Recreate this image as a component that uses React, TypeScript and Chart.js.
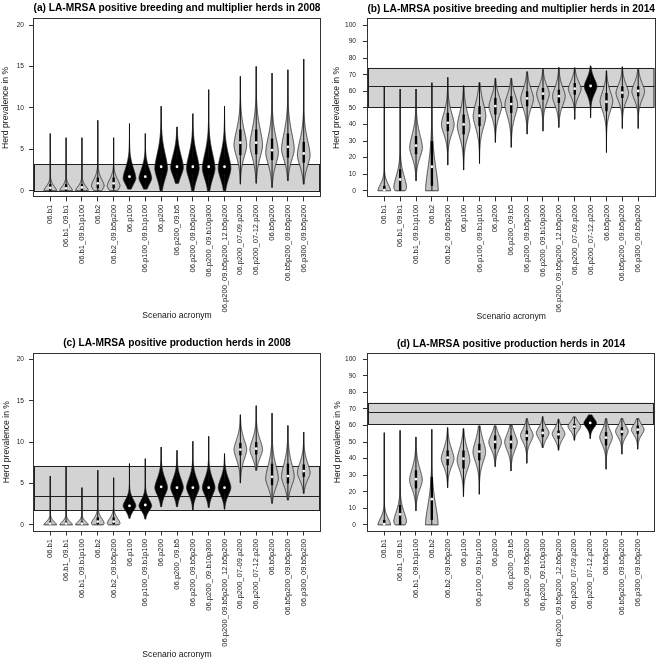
import React, { useEffect, useRef } from "react";
import { Chart, registerables } from "chart.js";
Chart.register(...registerables);

const categories = [
  "06.b1", "06.b1_09.b1", "06.b1_09.b1p100", "06.b2", "06.b2_09.b5p200",
  "06.p100", "06.p100_09.b1p100", "06.p200", "06.p200_09.b5", "06.p200_09.b5p200",
  "06.p200_09.b10p300", "06.p200_09.b5p200_12.b5p200", "06.p200_07-09.p200",
  "06.p200_07-12.p200", "06.b5p200", "06.b5p200_09.b5p200", "06.p300_09.b5p200",
];

const titles = [
  "(a) LA-MRSA positive breeding and multiplier herds in 2008",
  "(b) LA-MRSA positive breeding and multiplier herds in 2014",
  "(c) LA-MRSA positive production herds in 2008",
  "(d) LA-MRSA positive production herds in 2014",
];

const yTicks2008 = [0, 5, 10, 15, 20];
const yTicks2014 = [0, 10, 20, 30, 40, 50, 60, 70, 80, 90, 100];

// observed ranges (band low, band high, band centre line)
const bandA = [0, 3.2, null];
const bandB = [50.3, 74.2, 63.2];
const bandC = [1.8, 7.13, 3.5];
const bandD = [60.8, 73.8, 68.2];

// fill: k = black, g = grey
const fillA = ["g","g","g","g","g","k","k","k","k","k","k","k","g","g","g","g","g"];
const fillB = ["g","g","g","g","g","g","g","g","g","g","g","g","g","k","g","g","g"];
const fillC = ["g","g","g","g","g","k","k","k","k","k","k","k","g","g","g","g","g"];
const fillD = ["g","g","g","g","g","g","g","g","g","g","g","g","g","k","g","g","g"];

// panel (a)
const minA = [0, 0, 0, 0, 0, 0.2, 0.2, 0, 0.9, 0, 0, 0, 0.8, 0.9, 0.4, 1.2, 0.8];
const maxA = [6.9, 6.4, 6.4, 8.5, 6.4, 8.1, 6.9, 10.2, 7.7, 9.3, 12.2, 10.2, 13.8, 15.0, 14.2, 14.6, 15.9];
const medA = [0.35, 0.3, 0.4, 0.9, 0.9, 1.7, 1.7, 2.9, 2.9, 2.9, 2.9, 2.9, 5.8, 5.8, 4.9, 5.3, 4.5];
const modeA = [0, 0, 0, 0.6, 0.6, 1.5, 1.5, 2.7, 2.8, 2.7, 2.7, 2.7, 5.5, 5.5, 4.6, 5.0, 4.3];
const sdLoA = [0.3, 0.3, 0.3, 0.6, 0.6, 0.75, 0.75, 1.3, 1.05, 1.3, 1.3, 1.3, 1.4, 1.5, 1.4, 1.3, 1.3];
const sdHiA = [0.55, 0.55, 0.55, 0.8, 0.8, 1.25, 1.15, 1.8, 1.55, 1.7, 1.8, 1.7, 1.8, 2.0, 1.9, 2.0, 1.8];
const q1A = [0, 0, 0, 0.3, 0.3, 1.1, 1.1, 2.0, 2.1, 2.0, 2.0, 2.0, 4.3, 4.4, 3.7, 4.0, 3.4];
const q3A = [0.8, 0.8, 0.8, 1.6, 1.6, 2.4, 2.4, 3.9, 3.8, 3.9, 3.9, 3.9, 7.4, 7.4, 6.3, 6.9, 5.9];

// panel (b)
const minB = [0, 0, 6.0, 0, 15.5, 12.5, 16.5, 29.2, 26.2, 34.2, 36, 38.2, 43.1, 44.1, 23.1, 37.6, 37.6];
const maxB = [63.2, 61.4, 61.4, 65.2, 68.4, 63.4, 65.2, 67.8, 67.8, 71.8, 73.2, 74.4, 74.2, 75.3, 72.4, 74.8, 73.2];
const medB = [0.4, 6.8, 27.2, 14.5, 41, 40, 45.3, 51.1, 52.3, 55.7, 58.6, 57.1, 61.6, 63.2, 53.7, 59.2, 60.2];
const modeB = [0, 2, 26, 0, 40, 39, 45, 51, 52, 55.5, 58.5, 57, 61.5, 63, 54, 59, 60];
const sdLoB = [3, 3, 6, 3, 6, 7, 7, 6, 7, 6, 5.5, 5.5, 4.5, 4.5, 6, 5, 5];
const sdHiB = [4, 7, 8, 14, 7, 8, 8, 6, 6, 6, 5, 5.5, 4.5, 4.5, 6, 5, 5];
const q1B = [0, 0, 22, 3, 36, 34, 39, 46, 47, 51, 55, 53, 58, 60, 48, 56, 57];
const q3B = [3, 13, 33, 30, 47, 46, 51, 56, 57, 60, 62, 61, 65, 66, 59, 63, 63];

// panel (c)
const minC = [0, 0, 0, 0, 0, 0.8, 0.7, 2.2, 2.2, 1.8, 2.1, 1.9, 5.05, 6.6, 2.6, 3.0, 3.8];
const maxC = [5.9, 7.1, 4.5, 6.6, 5.7, 7.4, 8.0, 9.4, 9.0, 10.1, 10.7, 8.6, 13.3, 14.4, 13.5, 12.0, 11.2];
const medC = [0.15, 0.15, 0.15, 0.4, 0.4, 2.3, 2.4, 4.6, 4.5, 4.5, 4.5, 4.5, 9.1, 9.2, 5.8, 5.9, 6.5];
const modeC = [0, 0, 0, 0.2, 0.2, 2.3, 2.3, 4.5, 4.5, 4.5, 4.5, 4.5, 9.1, 9.1, 5.6, 5.8, 6.3];
const sdLoC = [0.25, 0.25, 0.25, 0.4, 0.4, 0.6, 0.6, 0.9, 0.9, 0.9, 0.9, 0.9, 1.2, 1.0, 1.1, 1.1, 0.9];
const sdHiC = [0.4, 0.4, 0.4, 0.6, 0.6, 0.75, 0.75, 1.1, 1.1, 1.1, 1.1, 1.1, 1.2, 1.2, 1.6, 1.6, 1.2];
const q1C = [0, 0, 0, 0.1, 0.1, 1.9, 1.9, 3.9, 3.8, 3.8, 3.8, 3.8, 8.4, 8.5, 4.8, 5.0, 5.8];
const q3C = [0.4, 0.4, 0.4, 0.9, 0.9, 2.8, 2.9, 5.3, 5.2, 5.2, 5.2, 5.2, 9.9, 10.0, 7.4, 7.4, 7.3];

// panel (d)
const minD = [0, 0, 8.5, 0, 22.5, 17.1, 18.5, 35.2, 32.6, 37.2, 46.7, 45.1, 51.1, 52.1, 33.6, 42.7, 45.7];
const maxD = [55.7, 57.1, 53.1, 57.7, 58.8, 58.1, 59.8, 59.8, 60.4, 64.2, 65.4, 63.8, 65.2, 66.4, 64.2, 64.2, 64.2];
const medD = [0.5, 6.4, 27.6, 15.5, 40.6, 40, 44.3, 50.1, 50.1, 53.9, 55.5, 54.7, 59.4, 61.6, 52.7, 56.3, 57.5];
const modeD = [0, 2, 27, 0, 40, 39, 44, 50, 50, 54, 55.5, 55, 59.5, 61.5, 53, 56.5, 57.5];
const sdLoD = [3, 3, 5.5, 3, 5, 6, 6, 4.5, 5, 4, 3.5, 3.5, 2.8, 2.8, 4.5, 3.5, 3.2];
const sdHiD = [4, 6, 7, 12, 6, 7, 7, 4.5, 5, 4, 3.5, 3.5, 2.8, 2.8, 4.5, 3.5, 3.2];
const q1D = [0, 0, 22, 3, 36, 34, 39, 46, 46, 51, 53, 52, 58, 60, 48, 54, 55];
const q3D = [3, 12, 33, 29, 45, 45, 49, 54, 54, 57, 58, 57, 61, 63, 56, 59, 60];

const FONT = "'Liberation Sans', Arial, Helvetica, sans-serif";
const GREY = "#c4c4c4";
const BAND = "#d3d3d3";
const SHAPE_P = 1.7;

type Violins = {
  min: number[]; max: number[]; med: number[]; mode: number[];
  sdLo: number[]; sdHi: number[]; q1: number[]; q3: number[]; fill: string[];
};

type PanelCfg = {
  title: string; v: Violins; band: (number | null)[];
  yMin: number; yMax: number; yTicks: number[];
  left: number; top: number; w: number; h: number;
  areaLeft: number; areaRight: number; areaTop: number; areaBottom: number;
  titleCenter: number; yTitleCenter: number; xTitleCenter: number | null; yTickPad: number;
};

function violinPlugin(cfg: PanelCfg) {
  return {
    id: "violins",
    beforeDatasetsDraw(chart: any) {
      const { ctx, chartArea: ca } = chart;
      const xs = chart.scales.x, ys = chart.scales.y;
      ctx.save();
      ctx.beginPath();
      ctx.rect(ca.left, ca.top, ca.right - ca.left, ca.bottom - ca.top);
      ctx.clip();
      // observed band
      const b0 = ys.getPixelForValue(cfg.band[0] as number);
      const b1 = ys.getPixelForValue(cfg.band[1] as number);
      ctx.fillStyle = BAND;
      ctx.fillRect(ca.left + 1, b1, ca.right - ca.left - 2, b0 - b1);
      ctx.strokeStyle = "#222";
      ctx.lineWidth = 1;
      ctx.strokeRect(ca.left + 1.5, Math.round(b1) + 0.5, ca.right - ca.left - 3, Math.round(b0) - Math.round(b1));
      if (cfg.band[2] != null) {
        const bm = Math.round(ys.getPixelForValue(cfg.band[2] as number)) + 0.5;
        ctx.beginPath();
        ctx.moveTo(ca.left + 1, bm);
        ctx.lineTo(ca.right - 1, bm);
        ctx.stroke();
      }
      const unit = xs.getPixelForValue(1) - xs.getPixelForValue(0);
      const W = 0.4 * unit;
      const bw = 0.15 * unit;
      const v = cfg.v;
      for (let i = 0; i < categories.length; i++) {
        const cx = xs.getPixelForValue(i + 1);
        const lo = v.min[i], hi = v.max[i];
        const N = 160;
        const pts: [number, number][] = [];
        for (let k = 0; k <= N; k++) {
          const val = lo + ((hi - lo) * k) / N;
          const d = val - v.mode[i];
          const s = d < 0 ? v.sdLo[i] : v.sdHi[i];
          const f = Math.exp(-0.5 * Math.pow(Math.abs(d) / s, SHAPE_P));
          pts.push([ys.getPixelForValue(val), W * f]);
        }
        ctx.beginPath();
        pts.forEach(([py, hw], k) => (k === 0 ? ctx.moveTo(cx - hw, py) : ctx.lineTo(cx - hw, py)));
        for (let k = pts.length - 1; k >= 0; k--) ctx.lineTo(cx + pts[k][1], pts[k][0]);
        ctx.closePath();
        ctx.fillStyle = v.fill[i] === "k" ? "#000" : GREY;
        ctx.fill();
        ctx.strokeStyle = "#222";
        ctx.lineWidth = 0.8;
        ctx.stroke();
        // whisker
        ctx.beginPath();
        ctx.moveTo(cx, ys.getPixelForValue(lo));
        ctx.lineTo(cx, ys.getPixelForValue(hi));
        ctx.lineWidth = 1;
        ctx.strokeStyle = "#111";
        ctx.stroke();
        // box
        const yq3 = ys.getPixelForValue(v.q3[i]);
        const yq1 = ys.getPixelForValue(v.q1[i]);
        ctx.fillStyle = "#000";
        ctx.fillRect(cx - bw / 2, yq3, bw, yq1 - yq3);
      }
      ctx.restore();
    },
    afterDatasetsDraw(chart: any) {
      const { ctx, chartArea: ca } = chart;
      ctx.save();
      ctx.strokeStyle = "#333";
      ctx.lineWidth = 1;
      ctx.strokeRect(Math.round(ca.left) + 0.5, Math.round(ca.top) + 0.5,
        Math.round(ca.right - ca.left) - 1, Math.round(ca.bottom - ca.top) - 1);
      ctx.restore();
    },
  };
}

function Panel({ cfg }: { cfg: PanelCfg }) {
  const ref = useRef<HTMLCanvasElement | null>(null);
  useEffect(() => {
    if (!ref.current) return;
    const titleSize = 10.2;
    const titleLH = titleSize * 1.2;
    const axTitleSize = 8.6;
    const axLH = axTitleSize * 1.2;
    const padTop = cfg.titleCenter - titleLH / 2;
    const padBottom = cfg.areaTop - padTop - titleLH;
    const xH = cfg.h - cfg.areaBottom;
    const chart = new Chart(ref.current, {
      type: "scatter",
      data: {
        datasets: [
          {
            data: cfg.v.med.map((m, i) => ({ x: i + 1, y: m })),
            pointRadius: 1.4,
            pointBackgroundColor: "#fff",
            pointBorderWidth: 0,
            pointBorderColor: "#fff",
          },
        ],
      },
      options: {
        responsive: false,
        animation: false,
        events: [],
        layout: { padding: { left: 0, top: 0, bottom: 0, right: cfg.w - cfg.areaRight } },
        plugins: {
          legend: { display: false },
          tooltip: { enabled: false },
          title: {
            display: true,
            text: cfg.title,
            fullSize: false,
            color: "#000",
            font: { family: FONT, size: titleSize, weight: "bold", lineHeight: 1.2 },
            padding: { top: padTop, bottom: padBottom },
          },
        },
        scales: {
          x: {
            type: "linear",
            min: 1 - 1.09,
            max: categories.length + 1.09,
            afterBuildTicks: (s: any) => {
              s.ticks = categories.map((_, i) => ({ value: i + 1 }));
            },
            afterFit: (s: any) => {
              s.height = xH;
            },
            ticks: {
              autoSkip: false,
              minRotation: 90,
              maxRotation: 90,
              padding: 3.5,
              color: "#222",
              font: { family: FONT, size: 7.6 },
              callback: (val: any) => categories[Math.round(Number(val)) - 1] ?? "",
            },
            grid: { display: true, drawOnChartArea: false, drawTicks: true, tickLength: 4, color: "#333" },
            border: { display: false },
            title: cfg.xTitleCenter == null
              ? { display: false }
              : {
                  display: true,
                  text: "Scenario acronym",
                  color: "#111",
                  font: { family: FONT, size: axTitleSize, lineHeight: 1.2 },
                  padding: { top: 0, bottom: cfg.h - cfg.xTitleCenter - axLH / 2 },
                },
          },
          y: {
            type: "linear",
            min: cfg.yMin,
            max: cfg.yMax,
            afterBuildTicks: (s: any) => {
              s.ticks = cfg.yTicks.map((t) => ({ value: t }));
            },
            afterFit: (s: any) => {
              s.width = cfg.areaLeft;
            },
            ticks: {
              padding: cfg.yTickPad,
              color: "#222",
              font: { family: FONT, size: 6.6 },
              callback: (val: any) => String(val),
            },
            grid: { display: true, drawOnChartArea: false, drawTicks: true, tickLength: 4, color: "#333" },
            border: { display: false },
            title: {
              display: true,
              text: "Herd prevalence in %",
              color: "#111",
              font: { family: FONT, size: axTitleSize, lineHeight: 1.2 },
              padding: { top: cfg.yTitleCenter - axLH / 2, bottom: 0 },
            },
          },
        },
      },
      plugins: [violinPlugin(cfg)],
    } as any);
    return () => chart.destroy();
  }, [cfg]);
  return (
    <canvas
      ref={ref}
      width={cfg.w}
      height={cfg.h}
      style={{ position: "absolute", left: cfg.left, top: cfg.top, width: cfg.w, height: cfg.h }}
    />
  );
}

const violinsA: Violins = { min: minA, max: maxA, med: medA, mode: modeA, sdLo: sdLoA, sdHi: sdHiA, q1: q1A, q3: q3A, fill: fillA };
const violinsB: Violins = { min: minB, max: maxB, med: medB, mode: modeB, sdLo: sdLoB, sdHi: sdHiB, q1: q1B, q3: q3B, fill: fillB };
const violinsC: Violins = { min: minC, max: maxC, med: medC, mode: modeC, sdLo: sdLoC, sdHi: sdHiC, q1: q1C, q3: q3C, fill: fillC };
const violinsD: Violins = { min: minD, max: maxD, med: medD, mode: modeD, sdLo: sdLoD, sdHi: sdHiD, q1: q1D, q3: q3D, fill: fillD };

const panels: PanelCfg[] = [
  {
    title: titles[0], v: violinsA, band: bandA, yMin: -0.8, yMax: 20.8, yTicks: yTicks2008,
    left: 0, top: 0, w: 330, h: 330,
    areaLeft: 33, areaRight: 321, areaTop: 18.4, areaBottom: 197.4,
    titleCenter: 7.8, yTitleCenter: 6, xTitleCenter: 316, yTickPad: 5,
  },
  {
    title: titles[1], v: violinsB, band: bandB, yMin: -4, yMax: 104, yTicks: yTicks2014,
    left: 330, top: 0, w: 330, h: 330,
    areaLeft: 37, areaRight: 325.5, areaTop: 18.4, areaBottom: 197.4,
    titleCenter: 9, yTitleCenter: 7, xTitleCenter: 317, yTickPad: 7,
  },
  {
    title: titles[2], v: violinsC, band: bandC, yMin: -0.8, yMax: 20.8, yTicks: yTicks2008,
    left: 0, top: 330, w: 330, h: 331,
    areaLeft: 33, areaRight: 321, areaTop: 22.7, areaBottom: 201.5,
    titleCenter: 12.8, yTitleCenter: 6.7, xTitleCenter: 325, yTickPad: 5,
  },
  {
    title: titles[3], v: violinsD, band: bandD, yMin: -4, yMax: 104, yTicks: yTicks2014,
    left: 330, top: 330, w: 330, h: 331,
    areaLeft: 37, areaRight: 325, areaTop: 22.7, areaBottom: 201.5,
    titleCenter: 14, yTitleCenter: 7.5, xTitleCenter: null, yTickPad: 7,
  },
];

export default function App() {
  return (
    <div style={{ position: "absolute", left: 0, top: 0, width: 660, height: 661, background: "#fff", overflow: "hidden" }}>
      {panels.map((p, i) => (
        <Panel key={i} cfg={p} />
      ))}
    </div>
  );
}
